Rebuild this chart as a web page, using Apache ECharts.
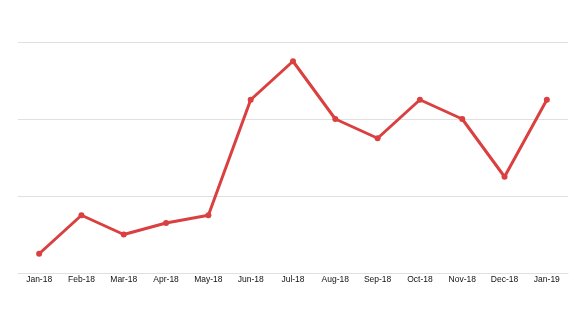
<!DOCTYPE html>
<html><head><meta charset="utf-8">
<script src="https://cdn.jsdelivr.net/npm/echarts@6/dist/echarts.min.js"></script>
<style>html,body{margin:0;padding:0;background:#fff}#c{width:578px;height:315px}</style>
</head><body><div id="c"></div>
<script>
const categories = ['Jan-18','Feb-18','Mar-18','Apr-18','May-18','Jun-18','Jul-18','Aug-18','Sep-18','Oct-18','Nov-18','Dec-18','Jan-19'];
const values = [5,15,10,13,15,45,55,40,35,45,40,25,45];
const chart = echarts.init(document.getElementById('c'));
chart.setOption({
  animation:false,
  grid:{left:18,right:10,top:42,bottom:42,containLabel:false},
  xAxis:{type:'category',data:categories,boundaryGap:true,
    axisLine:{show:true,lineStyle:{color:'#e0e0e0'}},axisTick:{show:false},
    axisLabel:{interval:0,color:'#111',fontSize:8.5,fontFamily:'Liberation Sans, Arial',margin:2}},
  yAxis:{type:'value',min:0,max:60,interval:20,axisLabel:{show:false},axisLine:{show:false},axisTick:{show:false},
    splitLine:{lineStyle:{color:'#e0e0e0'}}},
  series:[{type:'line',data:values,symbol:'circle',symbolSize:6,
    lineStyle:{color:'#d9403f',width:3},itemStyle:{color:'#d9403f'}}]
});
</script></body></html>
